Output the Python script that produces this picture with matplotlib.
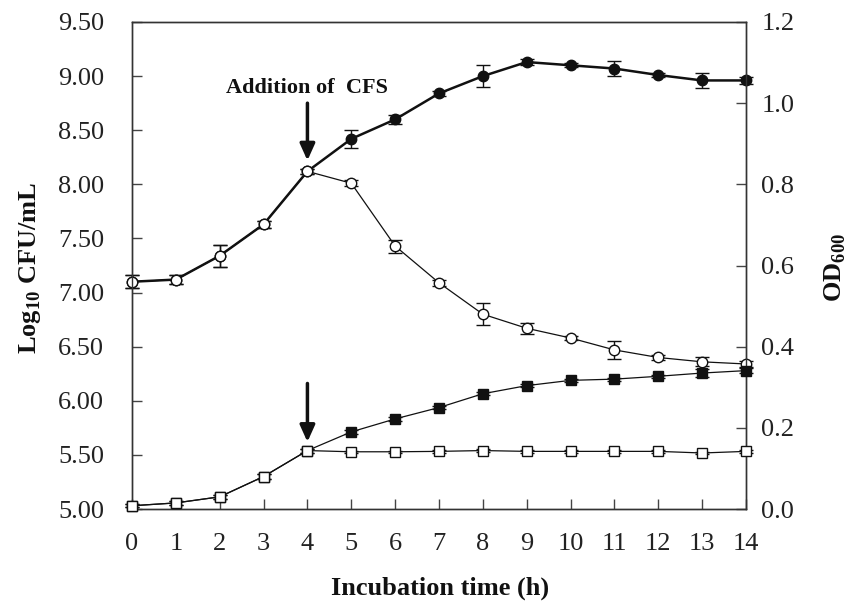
import numpy as np
import matplotlib
matplotlib.use("Agg")
import matplotlib.pyplot as plt
from matplotlib.ticker import FormatStrFormatter

plt.rcParams["font.family"] = ["Liberation Serif", "DejaVu Serif"]
plt.rcParams["mathtext.fontset"] = "custom"
plt.rcParams["mathtext.rm"] = "Liberation Serif"
plt.rcParams["mathtext.bf"] = "Liberation Serif:bold"

# incubation time (h)
hours = list(range(15))

# log10 CFU/mL, control and with CFS added at 4 h
logControl = [7.10, 7.12, 7.34, 7.63, 8.12, 8.42, 8.60, 8.84, 9.00, 9.13, 9.10, 9.07, 9.01, 8.96, 8.96]
logControlErr = [0.06, 0.04, 0.10, 0.03, 0.02, 0.08, 0.04, 0.02, 0.10, 0.03, 0.02, 0.07, 0.02, 0.07, 0.03]
logCfs = [7.10, 7.12, 7.34, 7.63, 8.12, 8.01, 7.43, 7.09, 6.80, 6.67, 6.58, 6.47, 6.40, 6.36, 6.34]
logCfsErr = [0.06, 0.04, 0.10, 0.03, 0.02, 0.03, 0.06, 0.03, 0.10, 0.05, 0.02, 0.08, 0.02, 0.04, 0.03]

# OD600, control and with CFS
odControl = [0.008, 0.015, 0.030, 0.080, 0.144, 0.190, 0.222, 0.250, 0.284, 0.304, 0.317, 0.320, 0.327, 0.335, 0.341]
odControlErr = [0.004, 0.004, 0.005, 0.006, 0.005, 0.005, 0.005, 0.004, 0.004, 0.004, 0.004, 0.004, 0.004, 0.010, 0.006]
odCfs = [0.008, 0.015, 0.030, 0.080, 0.144, 0.141, 0.141, 0.142, 0.144, 0.142, 0.142, 0.142, 0.142, 0.138, 0.142]
odCfsErr = [0.004, 0.004, 0.005, 0.006, 0.005, 0.003, 0.003, 0.003, 0.003, 0.003, 0.003, 0.003, 0.003, 0.003, 0.003]

INK = "#111111"
TICK_SIZE = 19

fig = plt.figure(figsize=(8.57, 6.05), dpi=100)
ax = fig.add_axes([132 / 857, 1 - 509 / 605, 614 / 857, 487 / 605])
ax2 = ax.twinx()

errStyle = dict(ecolor=INK, elinewidth=1.0, capsize=5, capthick=1.0, clip_on=False)

# left axis: viable counts
ax.errorbar(hours, logControl, yerr=logControlErr, color=INK, lw=1.8, marker="o",
            ms=7.5, mfc=INK, mec=INK, zorder=3, **errStyle)
ax.errorbar(hours, logCfs, yerr=logCfsErr, color=INK, lw=0.9, marker="o",
            ms=7.5, mfc="white", mec=INK, mew=1.0, zorder=4, **errStyle)

# right axis: optical density
ax2.errorbar(hours, odControl, yerr=odControlErr, color=INK, lw=0.9, marker="s",
             ms=7.5, mfc=INK, mec=INK, zorder=3, **errStyle)
ax2.errorbar(hours, odCfs, yerr=odCfsErr, color=INK, lw=0.9, marker="s",
             ms=7.5, mfc="white", mec=INK, mew=1.0, zorder=4, **errStyle)

ax.set_xlim(0, 14)
ax.set_ylim(5.0, 9.5)
ax2.set_ylim(0.0, 1.2)

ax.set_xticks(hours)
ax.set_yticks(np.arange(5.0, 9.51, 0.5))
ax2.set_yticks(np.arange(0.0, 1.21, 0.2))
ax.yaxis.set_major_formatter(FormatStrFormatter("%.2f"))
ax2.yaxis.set_major_formatter(FormatStrFormatter("%.1f"))

ax.tick_params(axis="both", direction="in", length=7, width=1, colors="#444444",
               labelsize=TICK_SIZE, labelcolor="#222222")
ax.tick_params(axis="y", pad=20)
ax.tick_params(axis="x", pad=17)
ax2.tick_params(axis="y", direction="in", length=7, width=1, colors="#444444",
                labelsize=TICK_SIZE, labelcolor="#222222", pad=11)

for a in (ax, ax2):
    for s in a.spines.values():
        s.set_color("#333333")
        s.set_linewidth(1.0)

# CFS addition arrows
ax.annotate("", xy=(4, 8.22), xytext=(4, 8.75),
            arrowprops=dict(arrowstyle="-|>,head_length=1.0,head_width=0.45",
                            color=INK, lw=2.5, shrinkA=0, shrinkB=0))
ax.annotate("", xy=(4, 5.62), xytext=(4, 6.16),
            arrowprops=dict(arrowstyle="-|>,head_length=1.0,head_width=0.45",
                            color=INK, lw=2.5, shrinkA=0, shrinkB=0))
ax.text(4, 8.89, "Addition of  CFS", ha="center", va="center",
        fontsize=16, fontweight="bold", color=INK)

fig.text(440 / 857, 1 - 588 / 605, "Incubation time (h)", ha="center", va="center",
         fontsize=19, fontweight="bold", color=INK)
fig.text(30 / 857, 1 - 268 / 605, r"Log$_{\mathbf{10}}$ CFU/mL", ha="center", va="center",
         rotation=90, fontsize=19, fontweight="bold", color=INK)
fig.text(835 / 857, 1 - 268 / 605, r"OD$_{\mathbf{600}}$", ha="center", va="center",
         rotation=90, fontsize=19, fontweight="bold", color=INK)

fig.savefig("out.png", dpi=100, facecolor="white")
